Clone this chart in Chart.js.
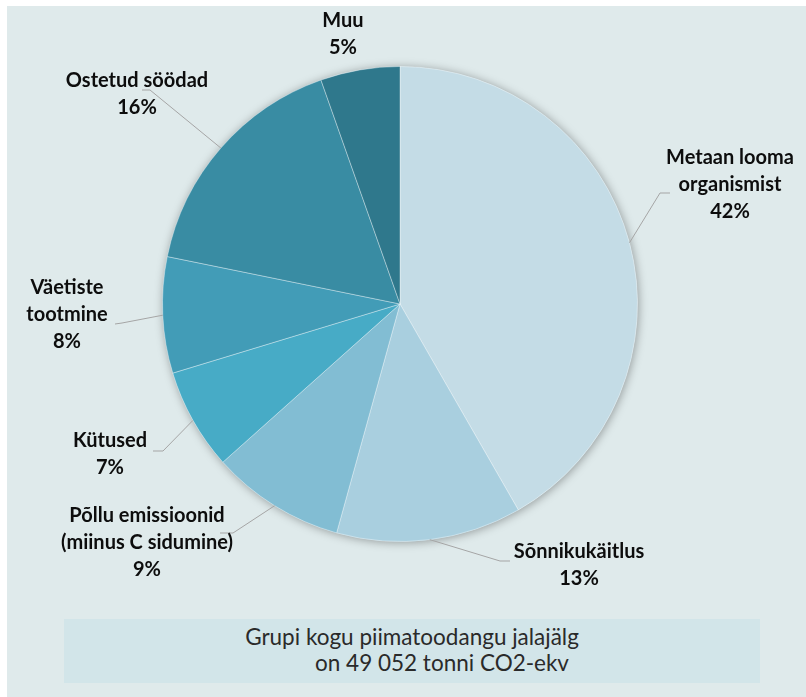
<!DOCTYPE html>
<html>
<head>
<meta charset="utf-8">
<script src="https://cdn.jsdelivr.net/npm/chart.js@4/dist/chart.umd.min.js"></script>
<style>
  html, body { margin: 0; padding: 0; background: #ffffff; }
  #panel { position: absolute; left: 7px; top: 6px; width: 799px; height: 691px; background: #dfeaeb; }
  #wrap { position: absolute; left: 0; top: 0; width: 806px; height: 697px; }
  #note { position: absolute; left: 64px; top: 619px; width: 696px; height: 64px; background: #d2e5e9;
          font-family: Lato, sans-serif; font-size: 22.5px; color: #2a2a2a; text-align: center; line-height: 26px; }
  #note .l1 { padding-top: 5px; }
  #note .l2 { padding-left: 60px; }
</style>
</head>
<body>
<div id="panel"></div>
<div id="wrap"><canvas id="c" width="806" height="697"></canvas></div>
<div id="note"><div class="l1">Grupi kogu piimatoodangu jalajälg</div><div class="l2">on 49 052 tonni CO2-ekv</div></div>
<script>
// ---- data ----
const categories = ['Metaan looma\norganismist', 'Sõnnikukäitlus', 'Põllu emissioonid\n(miinus C sidumine)', 'Kütused', 'Väetiste\ntootmine', 'Ostetud söödad', 'Muu'];
const shares = [41.7, 12.6, 9.1, 6.9, 7.9, 16.4, 5.4];
const colors = ['#c4dce6', '#a9cfdf', '#82bdd3', '#47abc6', '#429cb7', '#398ca3', '#2f788c'];

// ---- label layout (offsets from pie centre) ----
const labelCentre = [[330, -146], [179, 248], [-253, 212], [-290, 137], [-333, -16], [-263, -223], [-57, -283]];
const leaderElbow = [[260, -111], [100, 257], [-167, 229], [-237, 147], [-278, 19], [-250, -214], null];
const leaderEnd   = [[270, -111], [110, 257], [-180, 229], [-247, 147], [-285, 20], [-258, -214], null];
const lineGap = 27;

const total = shares.reduce((a, b) => a + b, 0);

const shadowPlugin = {
  id: 'shadow',
  beforeDatasetsDraw(chart) {
    const arc = chart.getDatasetMeta(0).data[0];
    if (!arc) return;
    const ctx = chart.ctx;
    ctx.save();
    ctx.beginPath();
    ctx.arc(arc.x, arc.y, arc.outerRadius, 0, Math.PI * 2);
    ctx.shadowColor = 'rgba(0,0,0,0.35)';
    ctx.shadowBlur = 10;
    ctx.shadowOffsetX = 1;
    ctx.shadowOffsetY = 1;
    ctx.fillStyle = '#c4dce6';
    ctx.fill();
    ctx.restore();
  }
};

const labelPlugin = {
  id: 'pieLabels',
  afterDatasetsDraw(chart) {
    const ctx = chart.ctx;
    const meta = chart.getDatasetMeta(0);
    ctx.save();
    meta.data.forEach((arc, i) => {
      const cx = arc.x, cy = arc.y, R = arc.outerRadius;
      const mid = (arc.startAngle + arc.endAngle) / 2;
      if (leaderElbow[i]) {
        ctx.beginPath();
        ctx.strokeStyle = '#a5a5a5';
        ctx.lineWidth = 1;
        ctx.moveTo(cx + Math.cos(mid) * R, cy + Math.sin(mid) * R);
        ctx.lineTo(cx + leaderElbow[i][0], cy + leaderElbow[i][1]);
        ctx.lineTo(cx + leaderEnd[i][0], cy + leaderEnd[i][1]);
        ctx.stroke();
      }
      const lines = categories[i].split('\n');
      lines.push(Math.round(shares[i] / total * 100) + '%');
      ctx.fillStyle = '#0d0d0d';
      ctx.font = 'bold 20px Lato, sans-serif';
      ctx.textAlign = 'center';
      ctx.textBaseline = 'middle';
      lines.forEach((t, k) => {
        ctx.fillText(t, cx + labelCentre[i][0], cy + labelCentre[i][1] + k * lineGap);
      });
    });
    ctx.restore();
  }
};

new Chart(document.getElementById('c'), {
  type: 'pie',
  data: {
    labels: categories,
    datasets: [{
      data: shares,
      backgroundColor: colors,
      borderColor: 'rgba(255,255,255,0.35)',
      borderWidth: 1
    }]
  },
  options: {
    responsive: false,
    animation: false,
    layout: { padding: { top: 66, bottom: 155, left: 162, right: 168 } },
    plugins: { legend: { display: false }, tooltip: { enabled: false } }
  },
  plugins: [shadowPlugin, labelPlugin]
});
</script>
</body>
</html>
